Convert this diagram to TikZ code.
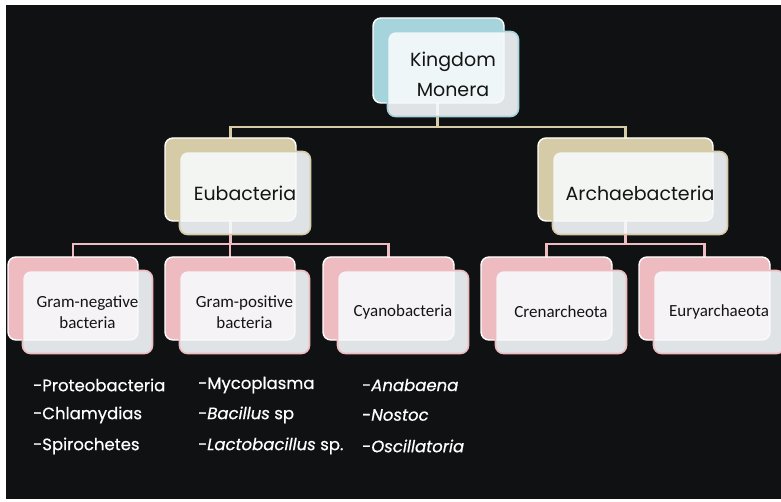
\documentclass[tikz,border=0pt]{standalone}
\usepackage{fontspec}
\setmainfont{Carlito}
\newfontfamily\hand{Poppins}
\newfontfamily\handb[FakeBold=0.6]{Poppins}
\definecolor{bgc}{HTML}{0F1112}
\definecolor{tanc}{HTML}{D6CBA7}
\definecolor{bluec}{HTML}{A6D4DD}
\definecolor{pinkc}{HTML}{EEBBC0}
\definecolor{frontc}{HTML}{F7FAFC}
\definecolor{textc}{HTML}{141414}
\tikzset{
  backbox/.style={draw=white, line width=1.4pt, rounded corners=8pt, fill=#1, inner sep=0pt},
  frontbox/.style={draw=#1, line width=1.6pt, rounded corners=8pt, fill=frontc, fill opacity=0.9, text opacity=1, inner sep=0pt, text=textc, align=center},
  conn/.style={draw=#1, line width=2.4pt},
  listtxt/.style={anchor=west, text=white, font=\handb\fontsize{16.5}{20}\selectfont, inner sep=0pt},
}
% name, colour, left, top, width, height, text, font
\newcommand\smartbox[8]{%
  \node[backbox=#2, minimum width=#5pt, minimum height=#6pt] (#1-b) at ({#3+#5/2},{#4+#6/2}) {};
  \node[frontbox=#2, minimum width=#5pt, minimum height=#6pt, font=#8] (#1) at ({#3+#5/2+14.5},{#4+#6/2+13.5}) {#7};
}
\begin{document}
\begin{tikzpicture}[x=1pt,y=-1pt]
\useasboundingbox (0,0) rectangle (781,502);
\fill[white] (0,0) rectangle (781,502);
\fill[bgc] (6,5) rectangle (781,499);
% connectors (drawn first, below the boxes)
\coordinate (kmc) at (437.5,103);
\coordinate (euc) at (230.5,221);
\coordinate (arc) at (625.5,221);
\coordinate (gnc) at (73,257);
\coordinate (gpc) at (230,257);
\coordinate (cyc) at (388.5,257);
\coordinate (crc) at (546.5,257);
\coordinate (ryc) at (704.5,257);
\coordinate (euT) at (230.5,138);
\coordinate (arT) at (625.5,138);
\draw[conn=tanc] (kmc) -- ++(0,24) -| (euT);
\draw[conn=tanc] (kmc) -- ++(0,24) -| (arT);
\draw[conn=pinkc] (euc) -- ++(0,23) -| (gnc);
\draw[conn=pinkc] (euc) -- ++(0,23) -| (gpc);
\draw[conn=pinkc] (euc) -- ++(0,23) -| (cyc);
\draw[conn=pinkc] (arc) -- ++(0,23) -| (crc);
\draw[conn=pinkc] (arc) -- ++(0,23) -| (ryc);
% boxes
\smartbox{km}{bluec}{373}{18}{131}{85}{Kingdom\\[2pt]Monera}{\hand\fontsize{19}{28}\selectfont}
\smartbox{eu}{tanc}{165}{138}{131}{83}{Eubacteria}{\hand\fontsize{19}{24}\selectfont}
\smartbox{ar}{tanc}{538}{138}{175}{83}{Archaebacteria}{\hand\fontsize{19}{24}\selectfont}
\smartbox{gn}{pinkc}{8}{257}{130}{83}{Gram-negative\\bacteria}{\fontsize{17}{21}\selectfont}
\smartbox{gp}{pinkc}{165}{257}{130}{83}{Gram-positive\\bacteria}{\fontsize{17}{21}\selectfont}
\smartbox{cy}{pinkc}{323}{257}{131}{83}{Cyanobacteria}{\fontsize{17}{21}\selectfont}
\smartbox{cr}{pinkc}{481}{257}{131}{83}{Crenarcheota}{\fontsize{17}{21}\selectfont}
\smartbox{ry}{pinkc}{639}{257}{131}{83}{Euryarchaeota}{\fontsize{17}{21}\selectfont}
% lists
\node[listtxt] (l11) at (33,385) {-Proteobacteria};
\node[listtxt] (l12) at (33,415) {-Chlamydias};
\node[listtxt] (l13) at (33,446) {-Spirochetes};
\node[listtxt] (l21) at (198,385) {-Mycoplasma};
\node[listtxt] (l22) at (198,415) {-\textit{Bacillus} sp};
\node[listtxt] (l23) at (198,446) {-\textit{Lactobacillus} sp.};
\node[listtxt] (l31) at (362,385) {-\textit{Anabaena}};
\node[listtxt] (l32) at (362,415) {-\textit{Nostoc}};
\node[listtxt] (l33) at (362,446) {-\textit{Oscillatoria}};
\end{tikzpicture}
\end{document}
